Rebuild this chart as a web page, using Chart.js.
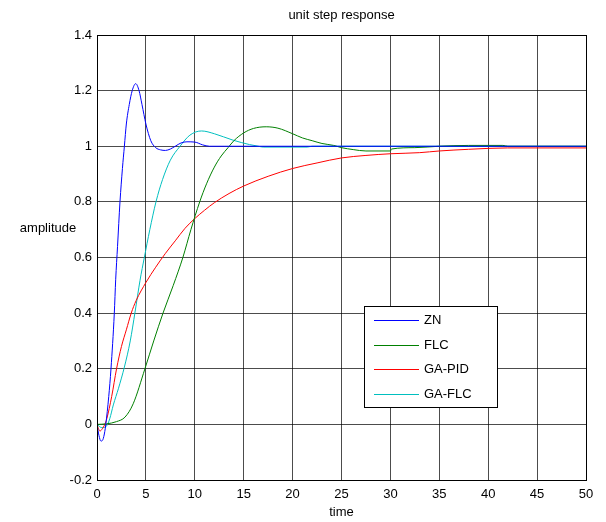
<!DOCTYPE html>
<html>
<head>
<meta charset="utf-8">
<script src="https://cdn.jsdelivr.net/npm/chart.js@4"></script>
<style>
  html, body { margin: 0; padding: 0; background: #fff; }
  #wrap { width: 606px; height: 522px; }
</style>
</head>
<body>
<div id="wrap"><canvas id="c" width="606" height="522"></canvas></div>
<script>
// data
const seriesNames = ["ZN", "FLC", "GA-PID", "GA-FLC"];

const znT = [0, 0.2, 0.4, 0.6, 0.8, 0.9, 1.2, 1.43, 1.77, 1.91, 2.1, 2.35, 2.6, 2.8, 3.0, 3.3, 3.6, 3.96, 4.3, 4.6, 5, 5.5, 6, 6.5, 7, 7.5, 8, 8.6, 9.2, 10, 10.8, 11.5, 13, 50];
const znV = [0, -0.04, -0.06, -0.055, -0.025, 0, 0.1, 0.2, 0.4, 0.52, 0.64, 0.8, 0.92, 1.0, 1.08, 1.15, 1.2, 1.225, 1.2, 1.15, 1.08, 1.02, 0.995, 0.987, 0.985, 0.99, 1.0, 1.012, 1.016, 1.015, 1.005, 1.0, 1.0, 1.0];

const flcT = [0, 1, 2, 2.86, 3.7, 4.9, 5.8, 6.75, 7.8, 8.78, 9.6, 10.5, 11.2, 12, 12.7, 13.4, 14, 15, 16, 17.3, 18.5, 20, 21, 22, 23, 24.2, 25, 26.2, 27.5, 30, 30.1, 32.5, 35, 38, 41.5, 42, 50];
const flcV = [0, 0.002, 0.01, 0.026, 0.074, 0.2, 0.3, 0.4, 0.5, 0.6, 0.7, 0.8, 0.865, 0.925, 0.965, 0.995, 1.02, 1.048, 1.064, 1.07, 1.065, 1.045, 1.03, 1.02, 1.01, 1.003, 0.995, 0.988, 0.983, 0.983, 0.99, 0.995, 1.0, 1.003, 1.003, 1.0, 1.0];

const pidT = [0, 0.3, 0.5, 0.8, 1.0, 1.5, 2, 2.5, 3, 3.5, 4, 5, 6, 7, 8, 9, 10, 11, 12, 13.5, 15, 17.5, 20, 22.5, 25, 27.5, 30, 33, 35, 38, 42, 50];
const pidV = [0, -0.024, -0.018, 0, 0.02, 0.1, 0.2, 0.28, 0.34, 0.4, 0.445, 0.51, 0.565, 0.615, 0.66, 0.705, 0.74, 0.77, 0.797, 0.83, 0.857, 0.892, 0.92, 0.94, 0.958, 0.967, 0.973, 0.977, 0.983, 0.989, 0.994, 0.994];

const gaflcT = [0, 0.5, 1, 1.3, 1.67, 2.2, 2.8, 3.4, 3.89, 4.4, 4.84, 5.4, 6.03, 6.7, 7.5, 8.49, 9.5, 10.7, 12, 13.9, 15.6, 16.5, 17, 21.5, 22, 50];
const gaflcV = [0, -0.012, -0.005, 0.02, 0.07, 0.13, 0.206, 0.3, 0.404, 0.518, 0.6, 0.7, 0.8, 0.88, 0.95, 1.0, 1.04, 1.055, 1.045, 1.022, 1.006, 1.0, 0.997, 0.997, 1.0, 1.0];

const seriesColors = ["#0000ff", "#008000", "#ff0000", "#00bfbf"];

const xTicks = [0, 5, 10, 15, 20, 25, 30, 35, 40, 45, 50];
const yTicks = [-0.2, 0, 0.2, 0.4, 0.6, 0.8, 1, 1.2, 1.4];

const FONT = "'Liberation Sans', Arial, sans-serif";

function pts(t, v){ return t.map((x, i) => ({ x, y: v[i] })); }

const allT = [znT, flcT, pidT, gaflcT];
const allV = [znV, flcV, pidV, gaflcV];

// extra text + box + legend, drawn on the canvas
const decor = {
  id: "decor",
  afterDraw(chart){
    const { ctx, chartArea: a } = chart;
    ctx.save();
    // axes box
    ctx.strokeStyle = "#000";
    ctx.lineWidth = 1;
    ctx.strokeRect(a.left + 0.5, a.top + 0.5, a.right - a.left, a.bottom - a.top);

    ctx.fillStyle = "#000";
    ctx.font = "13px " + FONT;
    ctx.textAlign = "center";
    ctx.textBaseline = "middle";
    ctx.fillText("unit step response", (a.left + a.right) / 2, 15);
    ctx.fillText("time", (a.left + a.right) / 2, 512);
    ctx.fillText("amplitude", 48, 228);

    // legend
    const lx = 364, ly = 306, lw = 133, lh = 101;
    ctx.fillStyle = "#fff";
    ctx.fillRect(lx, ly, lw, lh);
    ctx.strokeStyle = "#000";
    ctx.strokeRect(lx + 0.5, ly + 0.5, lw, lh);
    ctx.textAlign = "left";
    seriesNames.forEach((name, i) => {
      const y = Math.round(320 + i * 24.5);
      ctx.fillStyle = seriesColors[i];
      ctx.fillRect(374, y, 45, 1);
      ctx.fillStyle = "#000";
      ctx.fillText(name, 424, y);
    });
    ctx.restore();
  }
};

new Chart(document.getElementById("c"), {
  type: "scatter",
  data: {
    datasets: seriesNames.map((name, i) => ({
      label: name,
      data: pts(allT[i], allV[i]),
      showLine: true,
      borderColor: seriesColors[i],
      backgroundColor: seriesColors[i],
      borderWidth: 1,
      pointRadius: 0,
      cubicInterpolationMode: "monotone",
      fill: false
    }))
  },
  options: {
    responsive: false,
    animation: false,
    layout: { padding: { left: 0, right: 20, top: 35, bottom: 0 } },
    plugins: { legend: { display: false }, title: { display: false }, tooltip: { enabled: false } },
    scales: {
      x: {
        type: "linear", min: 0, max: 50,
        afterBuildTicks(s){ s.ticks = xTicks.map(v => ({ value: v })); },
        afterFit(s){ s.height = 42; },
        grid: { color: "rgba(0,0,0,0.7)", drawTicks: false },
        border: { display: true, color: "#000" },
        ticks: { color: "#000", padding: 7, font: { family: FONT, size: 13 }, maxRotation: 0,
                 callback: v => String(v) }
      },
      y: {
        type: "linear", min: -0.2, max: 1.4,
        afterBuildTicks(s){ s.ticks = yTicks.map(v => ({ value: v })); },
        afterFit(s){ s.width = 97; },
        grid: { color: "rgba(0,0,0,0.7)", drawTicks: false },
        border: { display: true, color: "#000" },
        ticks: { color: "#000", padding: 5, font: { family: FONT, size: 13 },
                 callback: v => String(Number(v.toFixed(1))) }
      }
    }
  },
  plugins: [decor]
});
</script>
</body>
</html>
